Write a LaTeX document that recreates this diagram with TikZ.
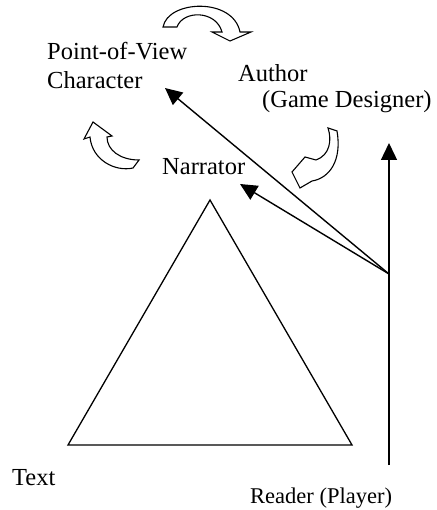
\documentclass[tikz,border=0pt]{standalone}
\usepackage{fontspec}
\setmainfont{Liberation Serif}
\usetikzlibrary{arrows.meta}
\begin{document}
\begin{tikzpicture}[x=1pt,y=-1pt,
  lbl/.style={inner sep=0pt, anchor=base west, align=left, font=\fontsize{24.5}{29}\selectfont},
  small/.style={inner sep=0pt, anchor=base west, font=\fontsize{22.5}{27}\selectfont},
  arr/.style={line width=1.4pt, -{Triangle[length=17pt,width=16pt]}},
  curvedblock/.style={line width=1.1pt, fill=white, line join=miter}]
\useasboundingbox (0,0) rectangle (436,510);
% texts
\node[lbl] (pov) at (47,89) {Point-of-View\\Character};
\node[lbl] (author) at (238,82) {Author};
\node[lbl] (designer) at (262,108) {(Game Designer)};
\node[lbl] (narr) at (162,175) {Narrator};
\node[lbl] (text) at (12,485) {Text};
\node[small] (reader) at (250,503) {Reader (Player)};
% triangle (the text)
\coordinate (ta) at (210,200);
\coordinate (tr) at (352,445);
\coordinate (tl) at (68,445);
\draw[line width=1.3pt, line join=miter] (ta) -- (tr) -- (tl) -- cycle;
% reader axis
\coordinate (rb) at (389,465);
\coordinate (rt) at (389,143);
\coordinate (r) at (389,274);
\coordinate (povtip) at (165,88);
\coordinate (narrtip) at (240,184);
\draw[arr] (rb) -- (rt);
\draw[arr] (r) -- (povtip);
\draw[arr] (r) -- (narrtip);
% curved arrows
\draw[curvedblock] (163,27) .. controls (168,0) and (233,-3) .. (240,32)
  -- (251,32) -- (230,41) -- (212,32) -- (222,32)
  .. controls (216,10) and (183,10) .. (177,27) -- cycle;
\draw[curvedblock] (90,137) .. controls (92,160) and (115,172) .. (133,168)
  -- (139,160) .. controls (120,160) and (107,150) .. (107,137)
  -- (112,136) -- (93,122) -- (84,139) -- cycle;
\draw[curvedblock] (316,160) .. controls (330,155) and (332,140) .. (328,128)
  -- (337,131) .. controls (342,160) and (330,178) .. (312,181)
  -- (300,188) -- (292,172) -- (305,157) -- cycle;
\end{tikzpicture}
\end{document}
